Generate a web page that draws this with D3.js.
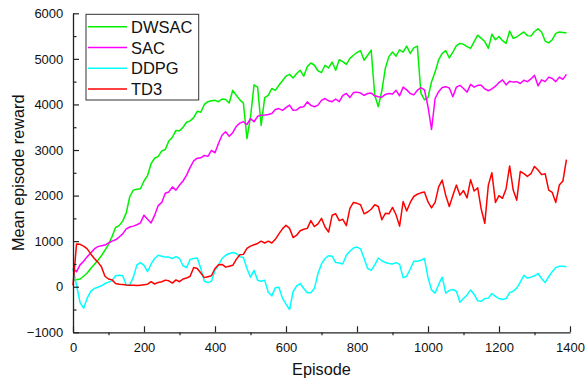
<!DOCTYPE html>
<html>
<head>
<meta charset="utf-8">
<script src="https://cdn.jsdelivr.net/npm/d3@7"></script>
<style>
  html, body { margin: 0; padding: 0; background: #fff; }
  svg { display: block; font-family: "Liberation Sans", Arial, Helvetica, sans-serif; }
</style>
</head>
<body>
<svg id="chart" width="585" height="382"></svg>
<script>
// episodes sampled every 10
const episodes = d3.range(0, 1400, 10)

const dwsac = [
  150, 155, 170, 230, 300, 400, 490, 580, 680, 800,
  930, 1100, 1300, 1340, 1440, 1620, 1980, 2120, 2140, 2150,
  2320, 2440, 2700, 2820, 2860, 2980, 3010, 3200, 3280, 3430,
  3420, 3500, 3610, 3640, 3710, 3850, 3830, 4000, 4060, 4080,
  4090, 4060, 4120, 4110, 4030, 4310, 4200, 4100, 4030, 3250,
  3720, 4430, 4380, 3540, 4150, 4200, 4350, 4310, 4420, 4520,
  4620, 4660, 4580, 4680, 4750, 4620, 4830, 4910, 4860, 4740,
  4700, 4860, 4800, 4930, 4750, 4980, 4940, 4880, 5010, 5080,
  5140, 5180, 4970, 5080, 5190, 4200, 3950, 4300, 4800, 5050,
  5150, 5060, 5200, 5150, 5280, 5120, 5240, 5280, 4250, 4100,
  4150, 4500, 4710, 4980, 5120, 5180, 5020, 5150, 5290, 5340,
  5320, 5270, 5230, 5380, 5520, 5450, 5380, 5230, 5540, 5420,
  5490, 5400, 5340, 5610, 5450, 5480, 5540, 5590, 5510, 5500,
  5600, 5660, 5590, 5390, 5350, 5420, 5560, 5590, 5580, 5570
]

const sac = [
  400, 330, 480, 560, 660, 740, 830, 880, 900, 915,
  960, 1000, 1030, 1090, 1160, 1270, 1310, 1330, 1360, 1400,
  1570, 1480, 1400, 1570, 1780, 1850, 2050, 2080, 2190, 2120,
  2230, 2320, 2450, 2620, 2760, 2820, 2830, 2880, 2860, 2990,
  2940, 3150, 3330, 3400, 3300, 3380, 3520, 3590, 3620, 3560,
  3690, 3620, 3740, 3765, 3770, 3780, 3800, 3890, 3910, 3870,
  3930, 3985, 3870, 3880, 3940, 3950, 4057, 3980, 3950, 3985,
  4090, 4130, 4080, 4060, 4120, 4060, 4200, 4240, 4150, 4260,
  4270, 4250, 4200, 4240, 4250, 4190, 4170, 4160, 4220, 4240,
  4230, 4310, 4190, 4380, 4320, 4240, 4210, 4310, 4370, 4320,
  3950, 3450, 4130, 4280, 4370, 4390, 4360, 4170, 4380, 4420,
  4350, 4270, 4440, 4380, 4420, 4420, 4340, 4300, 4340, 4400,
  4480, 4540, 4430, 4510, 4490, 4500, 4460, 4530, 4500, 4560,
  4640, 4410, 4540, 4500, 4600, 4570, 4500, 4600, 4550, 4660
]

const ddpg = [
  400, 30, -350, -470, -250, -100, -40, -10, 20, 70,
  100, 130, 240, 250, 240, 40, 40, 210, 480, 530,
  470, 330, 500, 620, 690, 670, 650, 650, 620, 660,
  620, 460, 420, 600, 620, 630, 400, 120, 90, 120,
  360, 480, 620, 690, 730, 750, 730, 660, 640, 400,
  210, 360, 140, 120, 140, -120, -200, -20, -10, -250,
  -380, -500, -110, 20, 70, -40, -130, -130, -40, 290,
  500, 620, 680, 670, 530, 520, 500, 690, 780, 850,
  870, 830, 620, 400, 360, 480, 630, 570, 530, 510,
  500, 530, 490, 200, 230, 390, 560, 560, 580, 620,
  200, -70, -140, 50, 210, -140, -80, -60, -100, -340,
  -260, -180, -70, -170, -310, -320, -260, -250, -150, -210,
  -260, -280, -260, -130, -100, -30, 100, 250, 190, 210,
  240, 290, 180, 90, 220, 330, 420, 450, 450, 440
]

const td3 = [
  30, 940, 930, 890, 830, 720, 620, 540, 440, 230,
  170, 150, 70, 55, 50, 40, 35, 30, 25, 35,
  45, 55, 110, 60, 95, 110, 145, 130, 80, 150,
  110, 170, 190, 230, 420, 400, 300, 200, 220, 240,
  400, 480, 490, 430, 450, 470, 600, 700, 710, 840,
  890, 920, 950, 1000, 960, 1000, 960, 1040, 1160, 1270,
  1350, 1280, 1080, 1130, 1230, 1260, 1280, 1450, 1320, 1380,
  1500, 1310, 1200, 1570, 1600, 1450, 1480, 1340, 1720, 1850,
  1830, 1800, 1600, 1640, 1700, 1800, 1760, 1470, 1610, 1600,
  1740, 1580, 1330, 1870, 1660, 1850, 1980, 2030, 2060, 2080,
  1860, 1730, 1850, 2190, 2340, 2000, 1760, 2000, 2230, 2010,
  2110, 1950, 2350, 2100, 2170, 1700, 1390, 2230, 2500, 1850,
  2000, 1940, 2150, 2650, 2120, 1900, 2530, 2480, 2420, 2480,
  2640, 2560, 2460, 2480, 2120, 2070, 1850, 2230, 2320, 2790
]

const seriesNames = ['DWSAC', 'SAC', 'DDPG', 'TD3']
const seriesColors = ['#00f000', '#ff00ff', '#00ffff', '#ff0000']
const seriesValues = [dwsac, sac, ddpg, td3]

const xTicks = [0, 200, 400, 600, 800, 1000, 1200, 1400]
const xMinorTicks = [100, 300, 500, 700, 900, 1100, 1300]
const yTicks = [-1000, 0, 1000, 2000, 3000, 4000, 5000, 6000]
const yMinorTicks = [-500, 500, 1500, 2500, 3500, 4500, 5500]

const svg = d3.select('#chart')
const x = d3.scaleLinear().domain([0, 1400]).range([73, 570])
const y = d3.scaleLinear().domain([-1000, 6000]).range([332.3, 13.3])
const fmt = d3.format('d')

// data lines
const line = d3.line().x((d, i) => x(episodes[i])).y(d => y(d))
const gLines = svg.append('g')
seriesValues.forEach((vals, i) => {
  gLines.append('path')
    .datum(vals)
    .attr('d', line)
    .attr('fill', 'none')
    .attr('stroke', seriesColors[i])
    .attr('stroke-width', 1.5)
    .attr('stroke-linejoin', 'round')
})

// axes
const axisColor = '#222'
const gX = svg.append('g').attr('transform', 'translate(0,332.3)')
  .call(d3.axisBottom(x).tickValues(xTicks).tickFormat(fmt).tickSizeInner(-6).tickSizeOuter(0).tickPadding(10))
gX.append('g')
  .call(d3.axisBottom(x).tickValues(xMinorTicks).tickSize(3).tickFormat(''))
  .select('.domain').remove()

const gY = svg.append('g').attr('transform', 'translate(73,0)')
  .call(d3.axisLeft(y).tickValues(yTicks).tickFormat(fmt).tickSizeInner(-6).tickSizeOuter(0).tickPadding(9.7))
gY.append('g')
  .call(d3.axisLeft(y).tickValues(yMinorTicks).tickSize(-3.5).tickFormat(''))
  .select('.domain').remove()

svg.selectAll('.domain').attr('stroke', axisColor).attr('stroke-width', 1.3)
svg.selectAll('.tick line').attr('stroke', axisColor).attr('stroke-width', 1.2)
svg.selectAll('.tick text')
  .attr('fill', '#111')
  .attr('font-size', 13)
  .attr('font-family', '"Liberation Sans", Arial, sans-serif')

// axis titles
svg.append('text')
  .attr('x', 321.5).attr('y', 375)
  .attr('text-anchor', 'middle')
  .attr('font-size', 16.3)
  .attr('fill', '#111')
  .text('Episode')

svg.append('text')
  .attr('transform', 'translate(24,172.8) rotate(-90)')
  .attr('text-anchor', 'middle')
  .attr('font-size', 16.3)
  .attr('fill', '#111')
  .text('Mean episode reward')

// legend
const legend = svg.append('g')
legend.append('rect')
  .attr('x', 86).attr('y', 14.3)
  .attr('width', 112.7).attr('height', 85.7)
  .attr('fill', '#fff')
  .attr('stroke', '#333')
  .attr('stroke-width', 1)

seriesNames.forEach((name, i) => {
  const base = 32.7 + i * 20.8
  legend.append('line')
    .attr('x1', 88).attr('x2', 127)
    .attr('y1', base - 6).attr('y2', base - 6)
    .attr('stroke', seriesColors[i])
    .attr('stroke-width', 1.5)
  legend.append('text')
    .attr('x', 131).attr('y', base)
    .attr('font-size', 16.5)
    .attr('fill', '#111')
    .text(name)
})
</script>
</body>
</html>
